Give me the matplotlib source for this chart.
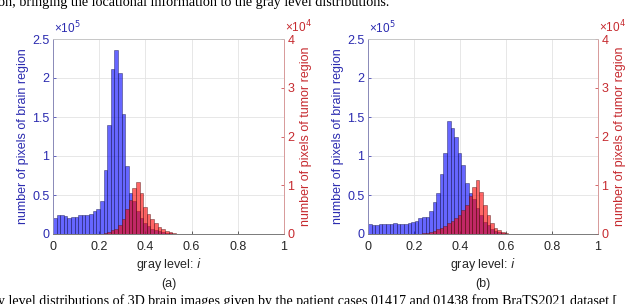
import numpy as np
import matplotlib
matplotlib.use("Agg")
import matplotlib.pyplot as plt

# 64 bins over gray level [0, 1]; brain counts in units of 1e5, tumor in 1e4
n_bins = 64
edges = np.linspace(0, 1, n_bins + 1)

brain_a = [0.20, 0.24, 0.24, 0.23, 0.21, 0.22, 0.22, 0.24, 0.24, 0.24,
           0.26, 0.29, 0.32, 0.42, 0.82, 1.40, 2.11, 2.36, 2.06, 1.54,
           0.87, 0.52, 0.42, 0.29, 0.20, 0.14, 0.10, 0.07, 0.05, 0.035,
           0.025, 0.015, 0.01, 0.005, 0.004, 0.003, 0.002, 0.001, 0, 0,
           0, 0, 0, 0, 0, 0, 0, 0, 0, 0,
           0, 0, 0, 0, 0, 0, 0, 0, 0, 0,
           0, 0, 0, 0]
tumor_a = [0, 0, 0, 0, 0, 0, 0, 0, 0, 0,
           0, 0, 0, 0, 0.02, 0.04, 0.08, 0.11, 0.18, 0.30,
           0.52, 0.69, 0.95, 1.06, 0.85, 0.56, 0.42, 0.31, 0.22, 0.15,
           0.10, 0.07, 0.035, 0.015, 0, 0, 0, 0, 0, 0,
           0, 0, 0, 0, 0, 0, 0, 0, 0, 0,
           0, 0, 0, 0, 0, 0, 0, 0, 0, 0,
           0, 0, 0, 0]

brain_b = [0.13, 0.11, 0.11, 0.13, 0.13, 0.13, 0.13, 0.145, 0.13, 0.13,
           0.13, 0.145, 0.155, 0.17, 0.21, 0.22, 0.22, 0.29, 0.41, 0.53,
           0.77, 1.04, 1.45, 1.36, 1.25, 1.04, 0.89, 0.66, 0.53, 0.45,
           0.33, 0.24, 0.16, 0.11, 0.06, 0.04, 0.025, 0.01, 0.004, 0.002,
           0, 0, 0, 0, 0, 0, 0, 0, 0, 0,
           0, 0, 0, 0, 0, 0, 0, 0, 0, 0,
           0, 0, 0, 0]
tumor_b = [0, 0, 0, 0, 0, 0, 0, 0, 0, 0,
           0, 0, 0, 0, 0.01, 0.02, 0.03, 0.05, 0.07, 0.10,
           0.13, 0.17, 0.22, 0.27, 0.32, 0.39, 0.49, 0.60, 0.77, 0.97,
           1.11, 0.86, 0.60, 0.39, 0.22, 0.13, 0.08, 0.05, 0.02, 0.01,
           0, 0, 0, 0, 0, 0, 0, 0, 0, 0,
           0, 0, 0, 0, 0, 0, 0, 0, 0, 0,
           0, 0, 0, 0]

x_ticks = [0, 0.2, 0.4, 0.6, 0.8, 1]
x_ticklabels = ["0", "0.2", "0.4", "0.6", "0.8", "1"]
left_ticks = [0, 0.5, 1, 1.5, 2, 2.5]
left_ticklabels = ["0", "0.5", "1", "1.5", "2", "2.5"]
right_ticks = [0, 1, 2, 3, 4]

panels = [("(a)", brain_a, tumor_a), ("(b)", brain_b, tumor_b)]

blue_txt = "#2b2bb0"
red_txt = "#c62a2f"
fs = 9

plt.rcParams['font.family'] = ['Liberation Sans', 'DejaVu Sans']

fig = plt.figure(figsize=(6.4, 3.04), dpi=100)
positions = [[53 / 640, 70 / 304, 231 / 640, 195 / 304],
             [368 / 640, 70 / 304, 230 / 640, 195 / 304]]

for pos, (tag, brain, tumor) in zip(positions, panels):
    ax = fig.add_axes(pos)
    ax2 = ax.twinx()

    ax.bar(edges[:-1], brain, width=1 / n_bins, align='edge',
           facecolor=(0, 0, 1, 0.6), edgecolor=(0.1, 0.1, 0.3, 0.6),
           linewidth=0.5)
    ax2.bar(edges[:-1], tumor, width=1 / n_bins, align='edge',
            facecolor=(1, 0, 0, 0.6), edgecolor=(0.3, 0.1, 0.1, 0.6),
            linewidth=0.5)

    ax.set_xlim(0, 1)
    ax.set_ylim(0, 2.5)
    ax2.set_ylim(0, 4)
    ax.set_xticks(x_ticks)
    ax.set_xticklabels(x_ticklabels)
    ax.set_yticks(left_ticks)
    ax.set_yticklabels(left_ticklabels)
    ax2.set_yticks(right_ticks)

    ax.set_axisbelow(True)
    ax.grid(True, color="#e3e3e3", linewidth=0.6)

    ax.tick_params(axis='x', direction='in', length=2.5, width=0.5,
                   labelsize=fs, colors="#262626", pad=5)
    ax.tick_params(axis='y', direction='in', length=2.5, width=0.5,
                   labelsize=fs, colors=blue_txt, pad=2.5)
    ax2.tick_params(axis='y', direction='in', length=2.5, width=0.5,
                    labelsize=fs, colors=red_txt, pad=2.5)

    for a in (ax, ax2):
        a.spines['top'].set_color("#c8c8c8")
        a.spines['bottom'].set_color("#7a7a7a")
        a.spines['left'].set_color("#8a8ab8")
        a.spines['right'].set_color("#d89a9a")
        for s in a.spines.values():
            s.set_linewidth(0.6)

    ax.set_xlabel("gray level: $\\mathit{i}$", fontsize=fs,
                  color="#262626", labelpad=2)
    ax.set_ylabel("number of pixels of brain region", fontsize=fs,
                  color=blue_txt, labelpad=2)
    ax2.set_ylabel("number of pixels of tumor region", fontsize=fs,
                   color=red_txt, labelpad=4)

    ax.text(0.005, 1.012, "×10$^{5}$", transform=ax.transAxes,
            fontsize=fs - 0.5, color=blue_txt, ha='left', va='bottom')
    ax.text(1.005, 1.02, "×10$^{4}$", transform=ax.transAxes,
            fontsize=fs - 0.5, color=red_txt, ha='left', va='bottom')

    ax.text(0.5, -0.225, tag, transform=ax.transAxes, fontsize=fs,
            color="#262626", ha='center', va='top')

# caption fragments cut by the crop
fig.text(-0.003, 1 - 6 / 304,
         "on, bringing the locational information to the gray level distributions.",
         family='Liberation Serif', fontsize=10.2, ha='left', va='baseline')
fig.text(-0.003, 1 - 294 / 304,
         "y level distributions of 3D brain images given by the patient cases 01417 and 01438 from BraTS2021 dataset [",
         family='Liberation Serif', fontsize=10.1, ha='left', va='top')

fig.savefig("out.png", dpi=100)
